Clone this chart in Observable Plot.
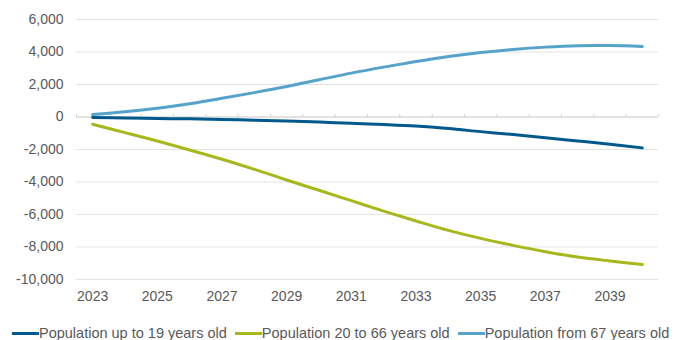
<!DOCTYPE html>
<html>
<head>
<meta charset="utf-8">
<script src="https://cdn.jsdelivr.net/npm/d3@7"></script>
<script src="https://cdn.jsdelivr.net/npm/@observablehq/plot@0.6"></script>
<style>
  html, body { margin: 0; padding: 0; background: #fff; }
  body { width: 681px; height: 340px; overflow: hidden; font-family: "Liberation Sans", Arial, sans-serif; }
  #chart { height: 312px; }
  #legend { display: flex; align-items: center; margin-left: 12px; margin-top: 10px; height: 22px; font-size: 14.5px; color: #595959; white-space: nowrap; }
  .item { display: flex; align-items: center; margin-right: 8px; }
  .sw { display: inline-block; width: 27px; height: 3px; }
</style>
</head>
<body>
<div id="chart"></div>
<div id="legend"></div>
<script>
const years = [2023, 2024, 2025, 2026, 2027, 2028, 2029, 2030, 2031, 2032, 2033, 2034, 2035, 2036, 2037, 2038, 2039, 2040];
const seriesNames = ["Population up to 19 years old", "Population 20 to 66 years old", "Population from 67 years old"];
const seriesColors = ["#00598c", "#a7b71c", "#55a2cb"];
const upTo19 = [-30, -60, -90, -115, -150, -200, -250, -315, -390, -465, -560, -710, -900, -1080, -1270, -1475, -1680, -1900];
const from20to66 = [-450, -960, -1480, -2030, -2600, -3220, -3880, -4510, -5150, -5790, -6400, -6980, -7470, -7900, -8290, -8620, -8860, -9070];
const from67 = [150, 320, 540, 820, 1150, 1500, 1875, 2290, 2700, 3070, 3410, 3720, 3970, 4160, 4300, 4390, 4400, 4340];
const yTicks = [-10000, -8000, -6000, -4000, -2000, 0, 2000, 4000, 6000];
const xTickLabels = [2023, 2025, 2027, 2029, 2031, 2033, 2035, 2037, 2039];
const categoryEdges = [2022.5, 2023.5, 2024.5, 2025.5, 2026.5, 2027.5, 2028.5, 2029.5, 2030.5, 2031.5, 2032.5, 2033.5, 2034.5, 2035.5, 2036.5, 2037.5, 2038.5, 2039.5, 2040.5];

const allSeries = [upTo19, from20to66, from67];
const rows = [];
allSeries.forEach((vals, s) => vals.forEach((v, i) => rows.push({year: years[i], value: v, series: seriesNames[s]})));

const grey = "#595959";
const chart = Plot.plot({
  width: 681,
  height: 312,
  marginLeft: 76,
  marginRight: 23,
  marginTop: 19,
  marginBottom: 33,
  style: { fontFamily: "'Liberation Sans', Arial, sans-serif", fontSize: "14px", color: grey, background: "#fff" },
  x: { domain: [2022.5, 2040.5] },
  y: { domain: [-10000, 6000] },
  color: { domain: seriesNames, range: seriesColors },
  marks: [
    Plot.gridY(yTicks, { stroke: "#e3e3e3", strokeOpacity: 1, strokeWidth: 1 }),
    Plot.ruleY([0], { stroke: "#d4d4d4", strokeWidth: 1 }),
    Plot.ruleX(categoryEdges, { y1: 0, y2: 170, stroke: "#d4d4d4", strokeWidth: 1 }),
    Plot.axisY(yTicks, { tickSize: 0, tickPadding: 13, tickFormat: d => d.toLocaleString("en-US"), fill: grey, label: null, fontSize: 14 }),
    Plot.axisX(xTickLabels, { tickSize: 0, tickPadding: 12, tickFormat: d => String(d), fill: grey, label: null, fontSize: 14 }),
    Plot.line(rows, { x: "year", y: "value", z: "series", stroke: "series", strokeWidth: 3, curve: "catmull-rom" })
  ]
});
document.getElementById("chart").appendChild(chart);

const legend = document.getElementById("legend");
seriesNames.forEach((name, i) => {
  const item = document.createElement("span");
  item.className = "item";
  const sw = document.createElement("span");
  sw.className = "sw";
  sw.style.background = seriesColors[i];
  const t = document.createElement("span");
  t.textContent = name;
  item.appendChild(sw);
  item.appendChild(t);
  legend.appendChild(item);
});
</script>
</body>
</html>
